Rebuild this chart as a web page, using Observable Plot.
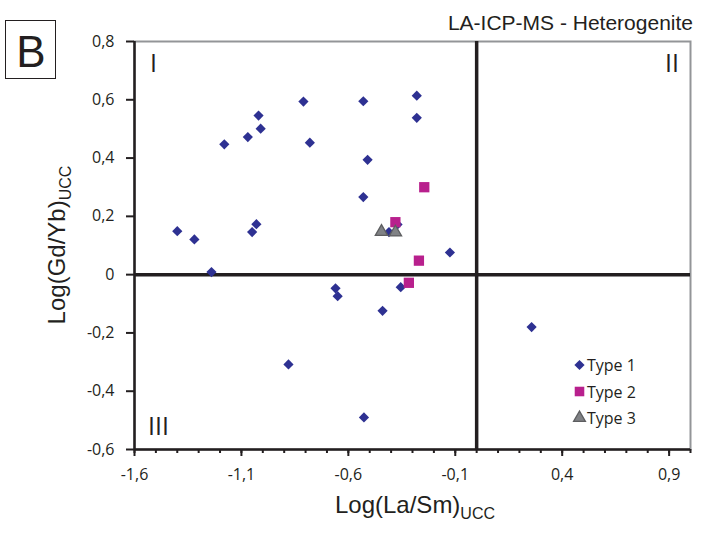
<!DOCTYPE html>
<html><head><meta charset="utf-8">
<script src="https://cdn.jsdelivr.net/npm/d3@7"></script>
<script src="https://cdn.jsdelivr.net/npm/@observablehq/plot@0.6"></script>
<style>body{margin:0;background:#fff}#chart{position:relative;width:701px;height:539px}</style>
</head><body><div id="chart"></div>
<script>
// Type 1 (blue diamonds)
const type1X = [-1.40, -1.32, -1.24, -1.18, -1.07, -1.02, -1.01, -0.81, -0.78, -1.05, -1.03, -0.53, -0.28, -0.28, -0.51, -0.53, -0.37, -0.41, -0.125, -0.355, -0.66, -0.65, -0.44, -0.88, -0.527, 0.257];
const type1Y = [0.149, 0.121, 0.009, 0.447, 0.472, 0.546, 0.501, 0.594, 0.453, 0.146, 0.173, 0.595, 0.614, 0.538, 0.394, 0.266, 0.172, 0.146, 0.076, -0.043, -0.047, -0.074, -0.124, -0.308, -0.49, -0.18];
// Type 2 (magenta squares)
const type2X = [-0.245, -0.38, -0.27, -0.317];
const type2Y = [0.30, 0.18, 0.048, -0.028];
// Type 3 (grey triangles)
const type3X = [-0.445, -0.38];
const type3Y = [0.147, 0.145];

const xTicks = [-1.6, -1.1, -0.6, -0.1, 0.4, 0.9];
const yTicks = [-0.6, -0.4, -0.2, 0, 0.2, 0.4, 0.6, 0.8];
const xDomain = [-1.6, 1.0];
const yDomain = [-0.6, 0.8];
const seriesNames = ["Type 1", "Type 2", "Type 3"];
const quadrantNames = ["I", "II", "III"];

const BLUE = "#2e3192", PINK = "#b8208d", GREY = "#808285", GREY_STROKE = "#5d5e60", INK = "#231f20";
const fmt = d => Math.abs(d) < 1e-9 ? "0" : String(+d.toFixed(1)).replace(".", ",");
const minorX = d3.range(0, Math.round((xDomain[1] - xDomain[0]) / 0.1) + 1).map(i => +(xDomain[0] + i * 0.1).toFixed(1));

const toRows = (xs, ys) => xs.map((x, i) => ({x, y: ys[i]}));
const t1 = toRows(type1X, type1Y), t2 = toRows(type2X, type2Y), t3 = toRows(type3X, type3Y);

const svgNode = Plot.plot({
  width: 701, height: 539,
  marginLeft: 134, marginRight: 11, marginTop: 41, marginBottom: 90,
  style: {fontFamily: "'Open Sans', sans-serif", fontSize: "16px", color: INK, background: "#fff"},
  x: {domain: xDomain, axis: null},
  y: {domain: yDomain, axis: null},
  marks: [
    Plot.frame({stroke: "#939598", strokeWidth: 2}),
    Plot.ruleX([xDomain[0]], {stroke: INK, strokeWidth: 2.5}),
    Plot.ruleY([yDomain[0]], {stroke: INK, strokeWidth: 2.5}),
    Plot.ruleX([0], {stroke: INK, strokeWidth: 3.5}),
    Plot.ruleY([0], {stroke: INK, strokeWidth: 3.5}),
    Plot.axisX({ticks: minorX, tickSize: 4, tickFormat: () => "", strokeWidth: 2, label: null}),
    Plot.axisX({ticks: xTicks, tickSize: 7, tickPadding: 12, tickFormat: fmt, strokeWidth: 2, label: null}),
    Plot.axisY({ticks: yTicks, tickSize: 8, tickPadding: 12, tickFormat: fmt, strokeWidth: 2, label: null}),
    Plot.dot(t1, {x: "x", y: "y", symbol: "diamond2", r: 4.6, fill: BLUE}),
    Plot.dot(t2, {x: "x", y: "y", symbol: "square", r: 5.8, fill: PINK}),
    Plot.dot(t3, {x: "x", y: "y", symbol: "triangle", r: 4.6, fill: GREY, stroke: GREY_STROKE, strokeWidth: 1.3})
  ]
});

const svg = d3.select(svgNode);
const g = svg.append("g").attr("fill", INK).attr("text-anchor", "start").attr("stroke", "none");

// Panel letter box
g.append("rect").attr("x", 5.5).attr("y", 20.5).attr("width", 50).attr("height", 58)
  .attr("fill", "none").attr("stroke", INK).attr("stroke-width", 1);
g.append("text").attr("x", 31).attr("y", 66.5).attr("text-anchor", "middle")
  .attr("font-family", "'Liberation Sans', Arial, sans-serif").attr("font-size", 44).text("B");

// Title
g.append("text").attr("x", 693).attr("y", 29.5).attr("text-anchor", "end")
  .attr("font-family", "'Liberation Sans', Arial, sans-serif").attr("font-size", 21).text("LA-ICP-MS - Heterogenite");

// Axis titles
const xt = g.append("text").attr("x", 415).attr("y", 513).attr("text-anchor", "middle")
  .attr("font-family", "'Liberation Sans', Arial, sans-serif").attr("font-size", 24);
xt.append("tspan").text("Log(La/Sm)");
xt.append("tspan").attr("font-size", 16).attr("dy", 6).text("UCC");

const yt = g.append("text").attr("transform", "translate(65,245) rotate(-90)").attr("text-anchor", "middle")
  .attr("font-family", "'Liberation Sans', Arial, sans-serif").attr("font-size", 24);
yt.append("tspan").text("Log(Gd/Yb)");
yt.append("tspan").attr("font-size", 16).attr("dy", 6).text("UCC");

// Quadrant labels
const qf = "'Open Sans', sans-serif";
g.append("text").attr("x", 150).attr("y", 71.5).attr("text-anchor", "start").attr("font-family", qf).attr("font-size", 25).text(quadrantNames[0]);
g.append("text").attr("x", 679).attr("y", 71.5).attr("text-anchor", "end").attr("font-family", qf).attr("font-size", 25).text(quadrantNames[1]);
g.append("text").attr("x", 148).attr("y", 435).attr("text-anchor", "start").attr("font-family", qf).attr("font-size", 25).text(quadrantNames[2]);

// Legend
const legendStyles = [
  {sym: d3.symbolDiamond2, size: Math.PI * 4.6 * 4.6, fill: BLUE, stroke: "none"},
  {sym: d3.symbolSquare, size: Math.PI * 5.4 * 5.4, fill: PINK, stroke: "none"},
  {sym: d3.symbolTriangle, size: Math.PI * 4.4 * 4.4, fill: GREY, stroke: GREY_STROKE}
];
const lg = g.append("g");
seriesNames.forEach((name, i) => {
  const cy = 365 + i * 26.5;
  const s = legendStyles[i];
  lg.append("path").attr("transform", `translate(579.5,${cy})`)
    .attr("d", d3.symbol(s.sym, s.size)()).attr("fill", s.fill)
    .attr("stroke", s.stroke).attr("stroke-width", 1.3);
  lg.append("text").attr("x", 587).attr("y", cy + 6).attr("text-anchor", "start")
    .attr("font-family", qf).attr("font-size", 16).text(name);
});

document.getElementById("chart").appendChild(svgNode);
</script>
</body></html>
